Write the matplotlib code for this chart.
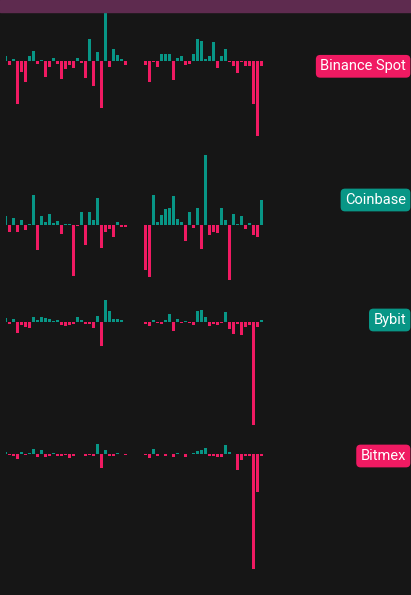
import matplotlib
matplotlib.use("Agg")
import matplotlib.pyplot as plt
import matplotlib.transforms as mtransforms
import numpy as np
from matplotlib.patches import Rectangle

BG = "#161616"
UP = "#089686"
DOWN = "#f01a62"
HEADER = "#5e2b4f"

exchanges = ["Binance Spot", "Coinbase", "Bybit", "Bitmex"]

# first session (first bar is cut by the left edge), then a gap, then second session
binance_s1 = [5.5, -4, 2.5, -43, -11, -21, 5.5, 10.5, -3, 1.5, -16, -6, 3.5, -3, -18, -8,
              -4, -7, 3.5, -2, -17, 22.5, -25, 9.5, -47, 52, -6, 12.5, 6.5, 2.5, -4]
binance_s2 = [-4, -21, -1, -6, 7.5, 7.5, 7.5, -19, 3, 5, -4, -3, 7, 22.5, 20.5, 2, 5,
              19.5, -7, 5, 12.5, -1, -5, -12, -1, -5, -5, -43, -75, -5]

coinbase_s1 = [9.3, -6.7, 7.3, -6.7, 5.3, -4.7, 1.3, 30.3, -24.7, 9.3, 3.3, 11.3, 2.3, 4.3,
               -8.7, 1.3, 1.3, -50.7, -0.7, 13.3, -19.7, 13.3, 5.3, 27.3, -22.7, -6.7, -3.7,
               -11.7, 3.3, -1.7, -1.7]
coinbase_s2 = [-44.7, -51.7, 30.3, 3.3, 10.3, 16.3, 17.3, 29.3, 6.3, 3.3, -15.7, 13.3, -2.7,
               17.3, -23.7, 70.3, -9.7, -6.7, -7.7, 17.3, 5.3, -55, 11.3, 1.3, 9.3, -3.7, 2.3,
               -9.7, -11.7, 25.3]

bybit_s1 = [3.7, -2.3, 2.7, -11.3, -3.3, -5.3, -6.3, 4.7, 1.7, 4.7, 3.7, 2.7, 0.7, 1.7, -3.3,
            -4.3, -3.3, -2.3, 4.7, 1.7, -2.3, -2.3, -6.3, 5.7, -24.3, 21.7, 10.7, 2.7, 2.7,
            1.7, -0.7]
bybit_s2 = [-2.3, -4.3, 1.7, -1.3, -2.3, 1.7, 7.7, -9.3, 2.7, -1.3, 0.7, -1.3, -3.3, 10.7,
            11.7, 4.7, -4.3, -2.3, -3.3, -1.3, 9.7, -7.3, -12.3, -2.3, -13.3, -5.3, -3.3,
            -103.3, -5.3, 1.7]

bitmex_s1 = [2.3, -0.7, -1.7, -4.7, 2.3, -0.7, 1.3, 5.3, -2.7, 4.3, -2.7, -1.7, 1.3, -1.7,
             -1.7, -0.7, -3.7, -1.7, 0.3, 0.3, -1.7, -0.7, -1.7, 10.3, -13.7, 4.3, -1.7,
             -1.7, 1.3, 0.3, -0.7]
bitmex_s2 = [-0.7, -3.7, 5.3, -1.7, 0.3, -1.7, 0.3, -2.7, 1.3, 0.3, -2.7, 0.3, 1.3, 3.3, 4.3,
             6.3, -1.7, -1.7, -2.7, -2.7, 9.3, 2.3, 0.3, -15.7, -5.7, -1.7, -1.7, -114.7,
             -37.7, -1.7]

series = [(binance_s1, binance_s2), (coinbase_s1, coinbase_s2),
          (bybit_s1, bybit_s2), (bitmex_s1, bitmex_s2)]
gap = 4

# pane bands in pixels from the top: (top, bottom, zero line)
W, H = 411, 595
bands = [(12, 150, 61.3), (150, 290, 225.3), (290, 430, 321.7), (430, 595, 454.3)]

fig = plt.figure(figsize=(W / 100, H / 100), dpi=100, facecolor=BG)

left_px = 6
for name, (s1, s2), (top, bot, zero) in zip(exchanges, series, bands):
    ax = fig.add_axes([left_px / W, 1 - bot / H, 1 - left_px / W, (bot - top) / H])
    ax.set_facecolor("none")
    ax.axis("off")

    vals = np.array(s1 + s2)
    x = np.concatenate([np.arange(len(s1)), np.arange(len(s2)) + len(s1) + gap])
    colors = [UP if v >= 0 else DOWN for v in vals]
    ax.bar(x, vals, width=0.75, color=colors, linewidth=0)

    ax.set_xlim((left_px - 5.5) / 4, (W - 5.5) / 4)
    ax.set_ylim(-(bot - zero), zero - top)

    last = vals[-1]
    trans = mtransforms.blended_transform_factory(fig.transFigure, ax.transData)
    ax.text(1 - 5 / W, last, name, transform=trans, ha="right", va="center",
            color="white", fontsize=10.5, family=["Roboto", "DejaVu Sans"],
            clip_on=False,
            bbox=dict(boxstyle="round,pad=0.3,rounding_size=0.3",
                      fc=UP if last >= 0 else DOWN, ec="none"))

fig.add_artist(Rectangle((0, 1 - 12 / H), 1, 12 / H, transform=fig.transFigure,
                         color=HEADER, zorder=10))

fig.savefig("out.png", dpi=100, facecolor=BG)
